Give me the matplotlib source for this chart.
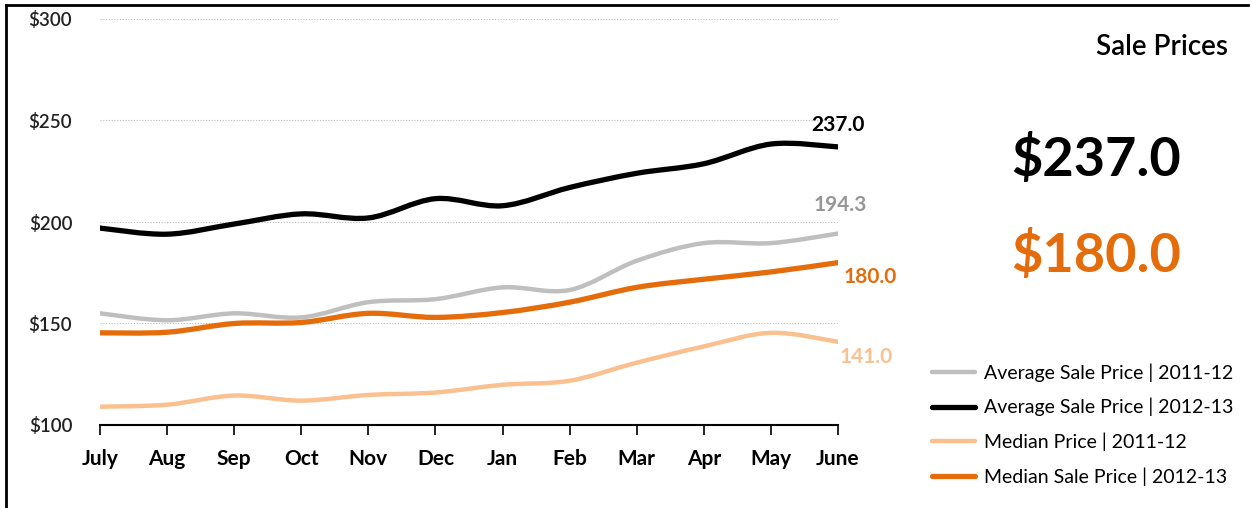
import numpy as np
import matplotlib
matplotlib.use("Agg")
import matplotlib.pyplot as plt
from matplotlib.path import Path
from matplotlib.patches import PathPatch
from matplotlib.lines import Line2D

plt.rcParams['font.family'] = ['Lato', 'DejaVu Sans']

months = ["July", "Aug", "Sep", "Oct", "Nov", "Dec", "Jan", "Feb", "Mar", "Apr", "May", "June"]
avg_1112 = [155, 151.6, 155, 153, 160.5, 162, 167.8, 166.5, 180.9, 189.6, 189.6, 194.3]
avg_1213 = [197, 194, 199, 204, 202, 211.5, 208, 217, 224, 228.7, 238.4, 237.0]
med_1112 = [109, 110, 114.5, 112, 114.8, 116, 119.8, 121.8, 130.7, 138.7, 145.4, 141.0]
med_1213 = [145.4, 145.7, 150, 150.5, 155, 153, 155.4, 160.5, 167.8, 171.8, 175.4, 180.0]
yticks = [100, 150, 200, 250, 300]

labels = ["Average Sale Price | 2011-12", "Average Sale Price | 2012-13",
          "Median Price | 2011-12", "Median Sale Price | 2012-13"]
colors = ["#BFBFBF", "#000000", "#FAC090", "#E46C0A"]
widths = [3.2, 3.8, 3.2, 3.8]
end_colors = ["#969696", "#000000", "#FAC090", "#E46C0A"]
end_offsets = [(2, 29), (0, 22), (28, -15), (32, -14)]


def smooth_path(x, y):
    # bezier segments like excel's smoothed line
    pts = np.column_stack([x, y]).astype(float)
    n = len(pts)
    verts = [pts[0]]
    codes = [Path.MOVETO]
    for i in range(n - 1):
        p0 = pts[i - 1] if i > 0 else pts[i]
        p1 = pts[i]
        p2 = pts[i + 1]
        p3 = pts[i + 2] if i + 2 < n else pts[i + 1]
        c1 = p1 + (p2 - p0) / 6
        c2 = p2 - (p3 - p1) / 6
        verts += [c1, c2, p2]
        codes += [Path.CURVE4] * 3
    return Path(verts, codes)


fig = plt.figure(figsize=(12.51, 5.08), dpi=100)
ax = fig.add_axes([100 / 1251, 83 / 508, 738 / 1251, 406 / 508])

x = np.arange(len(months))
series = [avg_1112, avg_1213, med_1112, med_1213]
for s, c, w in zip(series, colors, widths):
    ax.add_patch(PathPatch(smooth_path(x, s), facecolor="none", edgecolor=c,
                           lw=w, capstyle="round", joinstyle="round", zorder=3))

for s, c, off in zip(series, end_colors, end_offsets):
    ax.annotate(f"{s[-1]:.1f}", (x[-1], s[-1]), xytext=off, textcoords="offset pixels",
                ha="center", va="center", fontsize=15, fontweight="bold", color=c,
                annotation_clip=False)

ax.set_xlim(0, 11)
ax.set_ylim(100, 300)
ax.set_xticks(x)
ax.set_xticklabels(months, fontsize=15, fontweight="bold")
ax.set_yticks(yticks)
ax.set_yticklabels([f"${v}" for v in yticks], fontsize=13.5, fontweight="semibold",
                   color="#222222")
ax.tick_params(axis="x", direction="out", length=7, width=1.2, pad=10)
ax.tick_params(axis="y", length=0, pad=20)
for sp in ["left", "right", "top"]:
    ax.spines[sp].set_visible(False)
ax.spines["bottom"].set_linewidth(1.5)
for v in yticks[1:]:
    ax.axhline(v, color="#BBBBBB", lw=0.8, ls=(0, (1, 1.5)), zorder=1)

# right-hand panel
fig.text(1228 / 1251, 1 - 47 / 508, "Sale Prices", ha="right", va="center", fontsize=20,
         fontweight="semibold")
fig.text(1096 / 1251, 1 - 160 / 508, f"${avg_1213[-1]:.1f}", ha="center", va="center",
         fontsize=39, fontweight="bold", color="#000000")
fig.text(1096 / 1251, 1 - 255 / 508, f"${med_1213[-1]:.1f}", ha="center", va="center",
         fontsize=39, fontweight="bold", color="#E46C0A")

handles = [Line2D([], [], color=c, lw=w, solid_capstyle="round") for c, w in zip(colors, widths)]
fig.legend(handles, labels, loc="upper left", bbox_to_anchor=(932 / 1251, 1 - 363 / 508),
           frameon=False, fontsize=14, handlelength=2.2, handletextpad=0.46,
           labelspacing=0.84, borderpad=0, borderaxespad=0)

# frame lines on left and top
fig.add_artist(Line2D([6 / 1251, 6 / 1251], [0, 1 - 5 / 508], color="black", lw=2,
                      transform=fig.transFigure))
fig.add_artist(Line2D([6 / 1251, 1248 / 1251], [1 - 5 / 508, 1 - 5 / 508], color="black",
                      lw=2, transform=fig.transFigure))

fig.savefig("out.png", dpi=100)
